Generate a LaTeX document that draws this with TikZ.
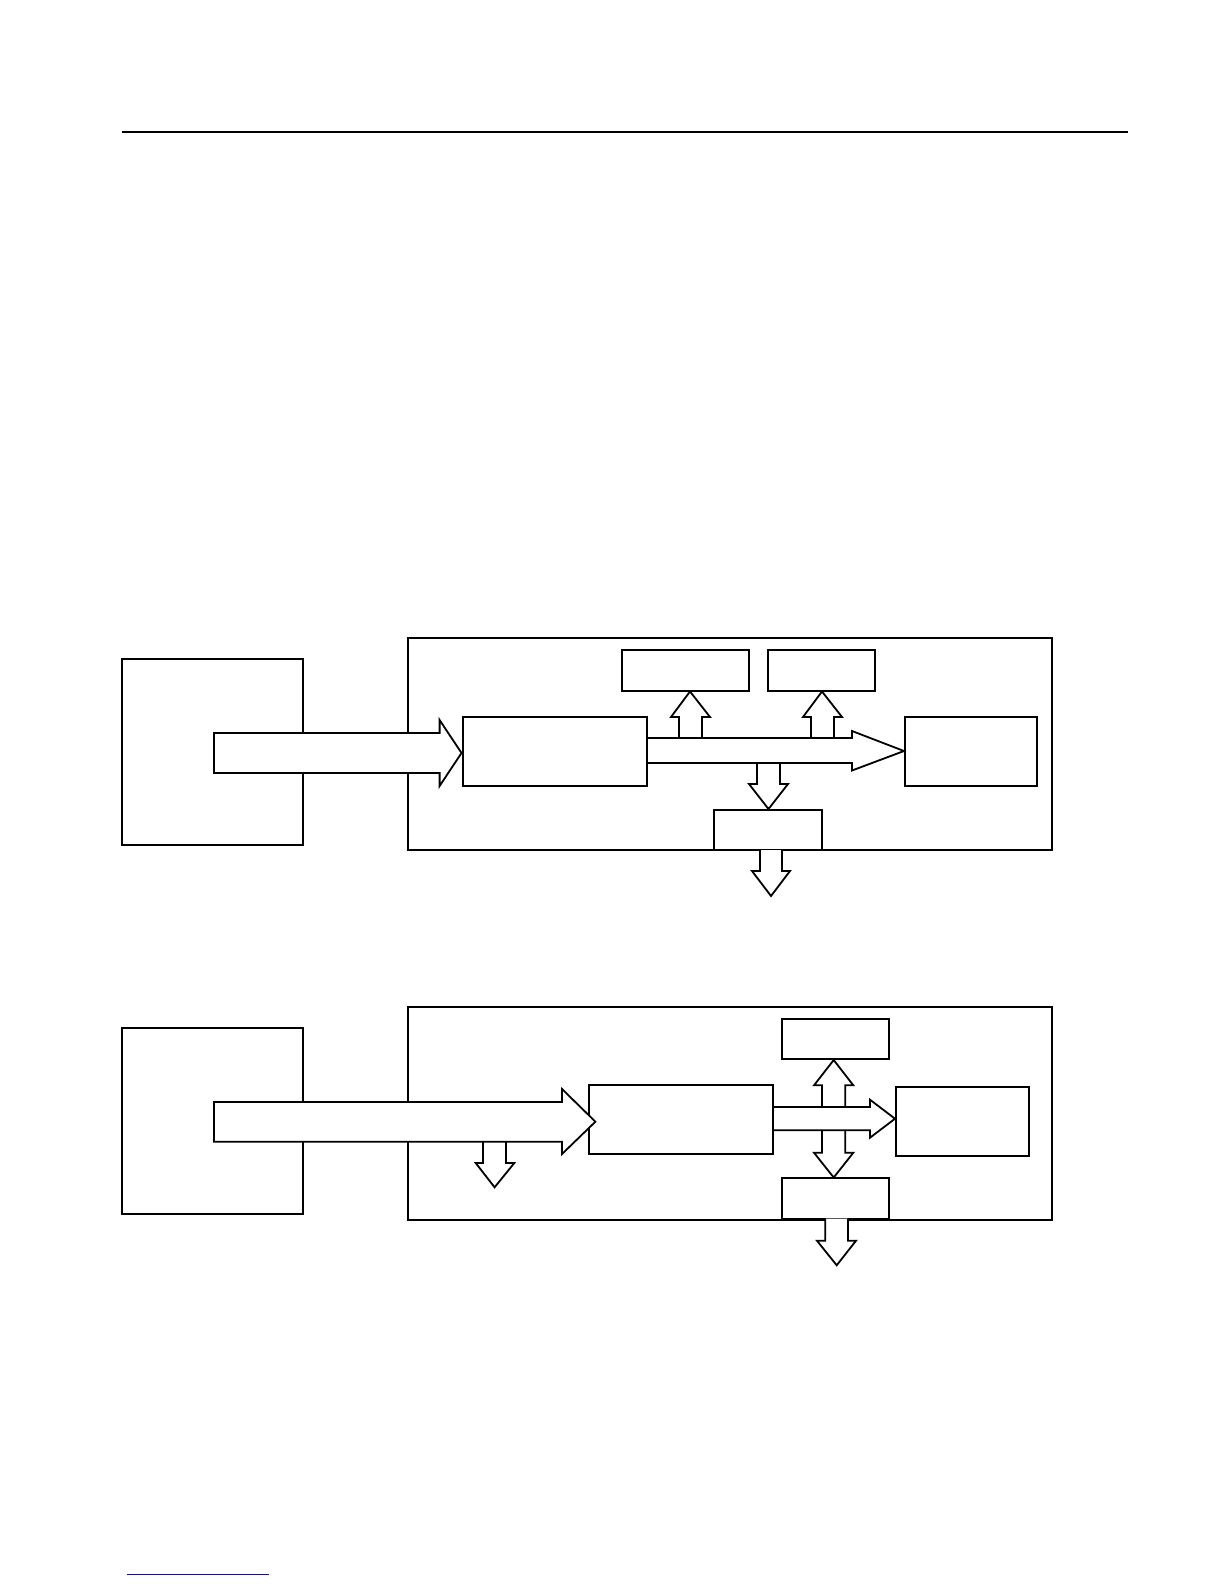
\documentclass[tikz,border=0pt]{standalone}
\usetikzlibrary{fit}
\begin{document}
\begin{tikzpicture}[x=0.5pt,y=-0.5pt,
  box/.style={draw=black,line width=1pt,inner sep=0pt,fill=white},
  blockarrow/.style={draw=black,line width=0.9pt,fill=white,line join=miter},
  rule/.style={line width=0.75pt}]
\useasboundingbox[fill=white] (0,0) rectangle (1224,1584);
% header rule
\coordinate (r1) at (122,132); \coordinate (r2) at (1128,132);
\draw[rule] (r1) -- (r2);
% ---------- diagram 1 ----------
\path (122,658.5) coordinate (s1a) (303,845) coordinate (s1b);
\node[box,fit=(s1a)(s1b)] (src1) {};
\path (408,637.5) coordinate (o1a) (1052,850) coordinate (o1b);
\node[box,fit=(o1a)(o1b)] (outer1) {};
\path (462.5,717) coordinate (a1a) (647,786) coordinate (a1b);
\node[box,fit=(a1a)(a1b)] (main1) {};
\path (622,650) coordinate (t1a) (749,691) coordinate (t1b);
\node[box,fit=(t1a)(t1b)] (topA) {};
\path (768,650) coordinate (t2a) (875,691) coordinate (t2b);
\node[box,fit=(t2a)(t2b)] (topB) {};
\path (905,717) coordinate (q1a) (1037,786) coordinate (q1b);
\node[box,fit=(q1a)(q1b)] (right1) {};
\path (714,810) coordinate (b1a) (822,850) coordinate (b1b);
\node[box,fit=(b1a)(b1b)] (bot1) {};
% input arrow
\draw[blockarrow] (214,733)--(439.6,733)--(439.6,720)--(main1.west |- 0,753)--(439.6,786)--(439.6,773)--(214,773)--cycle;
% up arrows
\draw[blockarrow] (679,738)--(679,717)--(671,717)--(690,691.5)--(710,717)--(702,717)--(702,738);
\draw[blockarrow] (811,738)--(811,717)--(803,717)--(822,691.5)--(842,717)--(834,717)--(834,738);
% down arrow into bottom box
\draw[blockarrow] (757,763)--(757,784)--(749,784)--(768.5,809)--(788,784)--(780,784)--(780,763);
% horizontal arrow to right box
\draw[blockarrow] (main1.east |- 0,738)--(852,738)--(852,731)--(right1.west |- 0,751)--(852,770.5)--(852,763)--(main1.east |- 0,763);
% output arrow
\draw[blockarrow] (760,850)--(760,871)--(752,871)--(771,896)--(790,871)--(782,871)--(782,850);
% ---------- diagram 2 ----------
\path (122,1028) coordinate (s2a) (303,1214) coordinate (s2b);
\node[box,fit=(s2a)(s2b)] (src2) {};
\path (408,1006.5) coordinate (o2a) (1052,1219.5) coordinate (o2b);
\node[box,fit=(o2a)(o2b)] (outer2) {};
\path (588.6,1085) coordinate (a2a) (773,1154) coordinate (a2b);
\node[box,fit=(a2a)(a2b)] (main2) {};
\path (781.7,1019) coordinate (t3a) (889,1059) coordinate (t3b);
\node[box,fit=(t3a)(t3b)] (top2) {};
\path (896,1087) coordinate (q2a) (1029,1156) coordinate (q2b);
\node[box,fit=(q2a)(q2b)] (right2) {};
\path (781.7,1178) coordinate (b2a) (889,1218.5) coordinate (b2b);
\node[box,fit=(b2a)(b2b)] (bot2) {};
% small down arrow from input arrow
\draw[blockarrow] (483,1141.7)--(483,1163)--(475.7,1163)--(494.6,1187.3)--(514.3,1163)--(506,1163)--(506,1141.7);
% input arrow
\draw[blockarrow] (214,1102)--(562,1102)--(562,1089)--(595.4,1121.7)--(562,1154)--(562,1141.7)--(214,1141.7)--cycle;
% up and down arrows
\draw[blockarrow] (822,1107)--(822,1085.3)--(814,1085.3)--(833.7,1060)--(853.3,1085.3)--(845.3,1085.3)--(845.3,1107);
\draw[blockarrow] (822,1130.3)--(822,1152.7)--(814,1152.7)--(833.7,1177.5)--(853.3,1152.7)--(845.3,1152.7)--(845.3,1130.3);
% horizontal arrow
\draw[blockarrow] (main2.east |- 0,1107)--(870,1107)--(870,1099.7)--(right2.west |- 0,1118.7)--(870,1137.7)--(870,1130.3)--(main2.east |- 0,1130.3);
% output arrow
\draw[blockarrow] (825.3,1218.5)--(825.3,1240.7)--(817,1240.7)--(836.7,1265.3)--(856,1240.7)--(848,1240.7)--(848,1218.5);
% footer line
\coordinate (f1) at (127,1574.5); \coordinate (f2) at (269,1574.5);
\draw[line width=0.6pt,color={rgb,255:red,20;green,20;blue,130}] (f1) -- (f2);
\end{tikzpicture}
\end{document}
